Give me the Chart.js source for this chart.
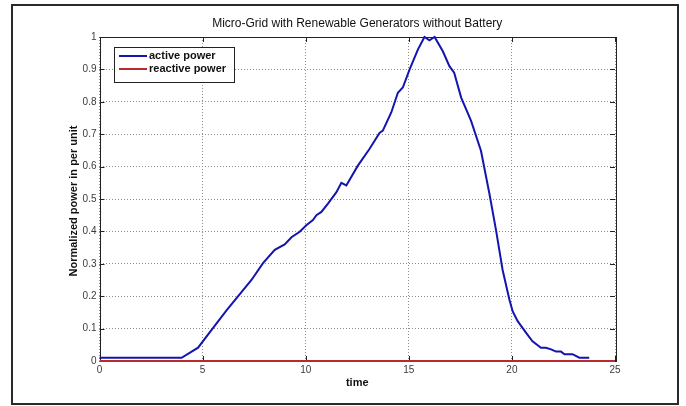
<!DOCTYPE html>
<html>
<head>
<meta charset="utf-8">
<script src="https://cdn.jsdelivr.net/npm/chart.js@4.4.1/dist/chart.umd.min.js"></script>
<style>
  html, body { margin: 0; padding: 0; background: #ffffff; }
  #wrap { width: 686px; height: 406px; position: relative; }
</style>
</head>
<body>
<div id="wrap"><canvas id="chart" width="686" height="406"></canvas></div>
<script>
// Texts
const chartTitle = 'Micro-Grid with Renewable Generators without Battery';
const xAxisTitle = 'time';
const yAxisTitle = 'Normalized power in per unit';
const seriesNames = ['active power', 'reactive power'];

// Active power over the day (hours, per-unit)
const activeTime = [
  0, 3.98, 4.78, 5.51, 6.16, 7.37, 7.93, 8.5, 8.98, 9.31, 9.71, 10.03, 10.35, 10.52,
  10.76, 11.08, 11.49, 11.73, 11.97, 12.53, 13.1, 13.58, 13.74, 14.15, 14.47, 14.71,
  15.04, 15.44, 15.76, 16.0, 16.25, 16.65, 16.97, 17.2, 17.54, 18.02, 18.5, 18.91,
  19.23, 19.55, 19.88, 20.04, 20.28, 20.69, 21.0, 21.41, 21.65, 21.9, 22.14, 22.38,
  22.55, 22.94, 23.27, 23.75
];
const activePower = [
  0.01, 0.01, 0.041, 0.102, 0.156, 0.25, 0.302, 0.343, 0.36, 0.382, 0.399, 0.419, 0.435, 0.45,
  0.46, 0.486, 0.521, 0.55, 0.542, 0.603, 0.655, 0.704, 0.711, 0.767, 0.828, 0.844,
  0.9, 0.961, 1.0, 0.99, 1.0, 0.956, 0.91, 0.89, 0.813, 0.741, 0.649, 0.516,
  0.404, 0.281, 0.189, 0.153, 0.123, 0.087, 0.061, 0.041, 0.041, 0.036, 0.029, 0.029,
  0.021, 0.021, 0.01, 0.01
];

// Reactive power stays at zero
const reactiveTime = [0, 25];
const reactivePower = [0, 0];

// Axis ticks
const xTicks = [0, 5, 10, 15, 20, 25];
const yTicks = [0, 0.1, 0.2, 0.3, 0.4, 0.5, 0.6, 0.7, 0.8, 0.9, 1];

const seriesColors = ['#1414b0', '#b82a2e'];
const fontFamily = '"Liberation Sans", Arial, Helvetica, sans-serif';

const toPoints = (xs, ys) => xs.map((x, i) => ({ x: x, y: ys[i] }));

// Frame, inward tick marks, outer border, titles and legend
const decorPlugin = {
  id: 'decor',
  beforeDatasetsDraw(chart) {
    const { ctx, chartArea: a, scales } = chart;
    ctx.save();
    ctx.strokeStyle = '#222';
    ctx.lineWidth = 1;
    ctx.strokeRect(Math.round(a.left) + 0.5, Math.round(a.top) + 0.5,
      Math.round(a.right - a.left), Math.round(a.bottom - a.top));
    ctx.beginPath();
    xTicks.forEach(v => {
      const x = Math.round(scales.x.getPixelForValue(v)) + 0.5;
      ctx.moveTo(x, a.bottom); ctx.lineTo(x, a.bottom - 5);
      ctx.moveTo(x, a.top); ctx.lineTo(x, a.top + 5);
    });
    yTicks.forEach(v => {
      const y = Math.round(scales.y.getPixelForValue(v)) + 0.5;
      ctx.moveTo(a.left, y); ctx.lineTo(a.left + 5, y);
      ctx.moveTo(a.right, y); ctx.lineTo(a.right - 5, y);
    });
    ctx.stroke();
    ctx.restore();
  },
  afterDraw(chart) {
    const { ctx, chartArea: a } = chart;
    ctx.save();
    // outer figure border
    ctx.strokeStyle = '#2a2a2a';
    ctx.lineWidth = 2;
    ctx.strokeRect(12, 5, 666, 399);

    const cx = (a.left + a.right) / 2;
    const cy = (a.top + a.bottom) / 2;
    ctx.fillStyle = '#111';
    ctx.textAlign = 'center';
    ctx.textBaseline = 'middle';
    ctx.font = '12px ' + fontFamily;
    ctx.fillText(chartTitle, cx, 24);
    ctx.font = 'bold 11px ' + fontFamily;
    ctx.fillText(xAxisTitle, cx, 383);
    ctx.save();
    ctx.translate(74, cy + 2);
    ctx.rotate(-Math.PI / 2);
    ctx.fillText(yAxisTitle, 0, 0);
    ctx.restore();

    // legend box
    const bx = 114, by = 47, bw = 120, bh = 35;
    ctx.fillStyle = '#fff';
    ctx.fillRect(bx, by, bw, bh);
    ctx.strokeStyle = '#222';
    ctx.lineWidth = 1;
    ctx.strokeRect(bx + 0.5, by + 0.5, bw, bh);
    ctx.textAlign = 'left';
    ctx.font = 'bold 11px ' + fontFamily;
    chart.data.datasets.forEach((ds, i) => {
      const y = by + 9 + i * 13;
      ctx.strokeStyle = ds.borderColor;
      ctx.lineWidth = 2;
      ctx.beginPath();
      ctx.moveTo(bx + 5, y);
      ctx.lineTo(bx + 33, y);
      ctx.stroke();
      ctx.fillStyle = '#111';
      ctx.fillText(ds.label, bx + 35, y);
    });
    ctx.restore();
  }
};

new Chart(document.getElementById('chart'), {
  type: 'line',
  data: {
    datasets: [
      {
        label: seriesNames[0],
        data: toPoints(activeTime, activePower),
        borderColor: seriesColors[0],
        borderWidth: 2,
        pointRadius: 0,
        tension: 0,
        clip: false
      },
      {
        label: seriesNames[1],
        data: toPoints(reactiveTime, reactivePower),
        borderColor: seriesColors[1],
        borderWidth: 2,
        pointRadius: 0,
        tension: 0,
        clip: false
      }
    ]
  },
  options: {
    responsive: false,
    animation: false,
    devicePixelRatio: 1,
    layout: { padding: { left: 0, top: 37, right: 71, bottom: 0 } },
    plugins: {
      legend: { display: false },
      title: { display: false },
      tooltip: { enabled: false }
    },
    scales: {
      x: {
        type: 'linear',
        min: 0,
        max: 25,
        afterBuildTicks: s => { s.ticks = xTicks.map(v => ({ value: v })); },
        afterFit: s => { s.height = 45; },
        grid: { color: '#8c8c8c', lineWidth: 1, drawTicks: false },
        border: { display: false, dash: [1, 2] },
        ticks: {
          color: '#3a3a3a',
          padding: 3,
          maxRotation: 0,
          font: { family: fontFamily, size: 10 },
          callback: v => String(v)
        }
      },
      y: {
        type: 'linear',
        min: 0,
        max: 1,
        afterBuildTicks: s => { s.ticks = yTicks.map(v => ({ value: v })); },
        afterFit: s => { s.width = 99.5; },
        grid: { color: '#8c8c8c', lineWidth: 1, drawTicks: false },
        border: { display: false, dash: [1, 2] },
        ticks: {
          color: '#3a3a3a',
          padding: 3,
          font: { family: fontFamily, size: 10 },
          callback: v => String(+Number(v).toFixed(1))
        }
      }
    }
  },
  plugins: [decorPlugin]
});
</script>
</body>
</html>
